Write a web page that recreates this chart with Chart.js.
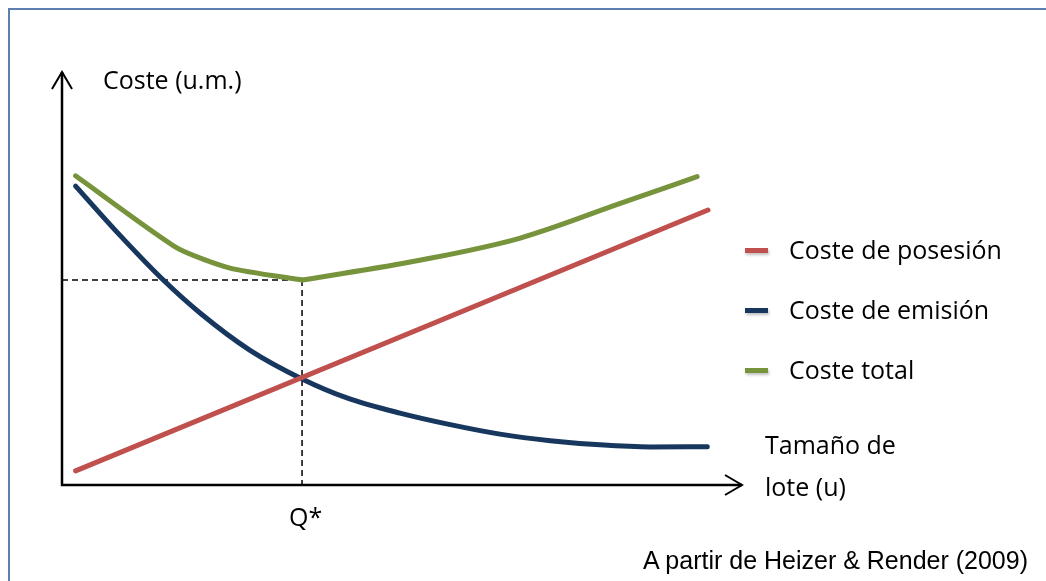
<!DOCTYPE html>
<html>
<head>
<meta charset="utf-8">
<script src="https://cdn.jsdelivr.net/npm/chart.js@4.4.1/dist/chart.umd.min.js"></script>
<style>
  html, body { margin: 0; padding: 0; background: #fff; }
  #wrap { position: relative; width: 1046px; height: 581px; overflow: hidden; }
  #frame { position: absolute; left: 8px; top: 8px; width: 1100px; height: 600px;
           border-left: 2px solid #5b7fae; border-top: 2px solid #5b7fae; }
  canvas { position: absolute; left: 0; top: 0; }
  .lbl { position: absolute; font-family: "Open Sans", Lato, sans-serif; font-size: 25px; color: #000; white-space: nowrap; line-height: 1; }
  .legend-item { position: absolute; left: 745px; font-family: "Open Sans", Lato, sans-serif; font-size: 25px; white-space: nowrap; line-height: 1; }
  .legend-item span.sw { position: absolute; left: 0; top: 11px; width: 23px; height: 5px; box-shadow: 1px 2px 3px rgba(0,0,0,0.25); }
  .legend-item span.tx { position: absolute; left: 44px; top: 0; }
  #src { position: absolute; right: 18px; top: 546px; font-family: "Liberation Sans", Arial, sans-serif; font-size: 25px; }
</style>
</head>
<body>
<div id="wrap">
  <div id="frame"></div>
  <canvas id="chart" width="1046" height="581"></canvas>
  <div class="lbl" style="left:103px; top:67px;">Coste (u.m.)</div>
  <div class="lbl" style="left:765px; top:432px;">Tamaño de</div>
  <div class="lbl" style="left:765px; top:474px;">lote (u)</div>
  <div class="lbl" style="left:289px; top:504px;">Q*</div>
  <div id="legend"></div>
  <div id="src">A partir de Heizer &amp; Render (2009)</div>
</div>
<script>
// values (x: lot size, y: cost, both 0-100)
const seriesNames = ['Coste de posesión', 'Coste de emisión', 'Coste total'];
const seriesColors = ['#c0504d', '#17375e', '#77933c'];

const holdingX = [2, 95];
const holdingY = [3.2, 66.5];

const orderingX = [2, 8.5, 14.9, 20.3, 27.6, 35.3, 41.9, 49.7, 57.1, 64.4, 71.8, 79.1, 86.5, 94.9];
const orderingY = [72.3, 60.4, 49.5, 41.5, 32.5, 25.5, 20.9, 17.2, 14.4, 12.1, 10.5, 9.5, 9.0, 9.05];

// left branch of the total cost has visible kinks, right branch is smooth
const totalLeftX = [2, 16.9, 24.7, 35.3];
const totalLeftY = [74.8, 57.3, 52.4, 49.5];
const totalRightX = [35.3, 52.6, 67.4, 82.1, 93.4];
const totalRightY = [49.5, 54.3, 59.7, 68.1, 74.6];

const qStar = [35.3, 49.5];
const axisMax = 100;

function pts(xs, ys) { return xs.map((x, i) => ({ x: x, y: ys[i] })); }

const guides = {
    id: 'guides',
    beforeDatasetsDraw(chart) {
        const { ctx, scales: { x, y } } = chart;
        const x0 = x.getPixelForValue(0), y0 = y.getPixelForValue(0);
        const qx = x.getPixelForValue(qStar[0]), qy = y.getPixelForValue(qStar[1]);
        ctx.save();
        ctx.strokeStyle = '#000';
        ctx.lineWidth = 1.5;
        ctx.setLineDash([6, 4]);
        ctx.beginPath();
        ctx.moveTo(x0, qy); ctx.lineTo(qx, qy);
        ctx.moveTo(qx, qy); ctx.lineTo(qx, y0);
        ctx.stroke();
        ctx.restore();
    },
    afterDatasetsDraw(chart) {
        const { ctx, scales: { x, y } } = chart;
        const x0 = x.getPixelForValue(0), y0 = y.getPixelForValue(0);
        const xe = x.getPixelForValue(axisMax), ye = y.getPixelForValue(axisMax);
        ctx.save();
        ctx.strokeStyle = '#000';
        ctx.lineWidth = 2.5;
        ctx.lineCap = 'butt';
        ctx.beginPath();
        ctx.moveTo(x0, ye); ctx.lineTo(x0, y0 + 1); ctx.lineTo(xe, y0 + 1);
        ctx.stroke();
        ctx.lineWidth = 2;
        ctx.beginPath();
        ctx.moveTo(x0 - 10, ye + 17); ctx.lineTo(x0, ye); ctx.lineTo(x0 + 10, ye + 17);
        ctx.moveTo(xe - 17, y0 - 9); ctx.lineTo(xe, y0 + 1); ctx.lineTo(xe - 17, y0 + 11);
        ctx.stroke();
        ctx.restore();
    }
};

const chart = new Chart(document.getElementById('chart'), {
    type: 'line',
    data: {
        datasets: [
            { label: seriesNames[0], data: pts(holdingX, holdingY), borderColor: seriesColors[0], borderWidth: 5, tension: 0 },
            { label: seriesNames[1], data: pts(orderingX, orderingY), borderColor: seriesColors[1], borderWidth: 5, cubicInterpolationMode: 'monotone' },
            { label: seriesNames[2], data: pts(totalLeftX, totalLeftY), borderColor: seriesColors[2], borderWidth: 5, tension: 0.2 },
            { label: seriesNames[2], data: pts(totalRightX, totalRightY), borderColor: seriesColors[2], borderWidth: 5, cubicInterpolationMode: 'monotone', legendHidden: true }
        ]
    },
    options: {
        responsive: false,
        animation: false,
        layout: { padding: { left: 62, right: 304, top: 72, bottom: 97 } },
        elements: { point: { radius: 0 }, line: { borderCapStyle: 'round', borderJoinStyle: 'round' } },
        scales: {
            x: { type: 'linear', min: 0, max: axisMax, display: false },
            y: { type: 'linear', min: 0, max: axisMax, display: false }
        },
        plugins: { legend: { display: false }, tooltip: { enabled: false } }
    },
    plugins: [guides]
});

// legend built from the datasets
const legendTops = [237, 297, 357];
const legendEl = document.getElementById('legend');
chart.data.datasets.filter(ds => !ds.legendHidden).forEach((ds, i) => {
    const item = document.createElement('div');
    item.className = 'legend-item';
    item.style.top = legendTops[i] + 'px';
    item.innerHTML = '<span class="sw" style="background:' + ds.borderColor + '"></span><span class="tx">' + ds.label + '</span>';
    legendEl.appendChild(item);
});
</script>
</body>
</html>
